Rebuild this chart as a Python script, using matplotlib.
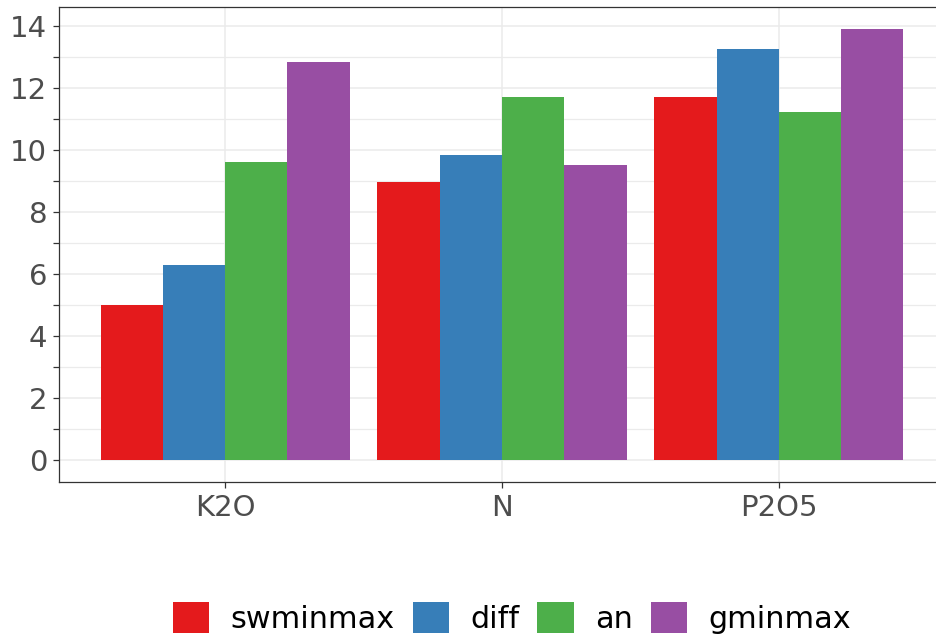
import numpy as np
import matplotlib
matplotlib.use("Agg")
import matplotlib.pyplot as plt
from matplotlib.ticker import MultipleLocator
from matplotlib.patches import Patch

plt.rcParams['font.family'] = ['DejaVu Sans']

# data
nutrients = ['K2O', 'N', 'P2O5']
methods = ['swminmax', 'diff', 'an', 'gminmax']
swminmax = [5.00, 8.99, 11.73]
diff = [6.29, 9.84, 13.27]
an = [9.61, 11.72, 11.24]
gminmax = [12.83, 9.53, 13.91]
colors = ['#E41A1C', '#377EB8', '#4DAF4A', '#984EA3']

series = [swminmax, diff, an, gminmax]

fig = plt.figure(figsize=(9.37, 6.37), dpi=100)
# panel is cut off on the right in the reference
ax = fig.add_axes([59 / 937, 1 - 482 / 637, (945 - 59) / 937, (482 - 7.5) / 637])

x = np.arange(1, len(nutrients) + 1)
w = 0.9 / len(methods)
for i, (vals, c) in enumerate(zip(series, colors)):
    ax.bar(x - 0.45 + w * (i + 0.5), vals, width=w, color=c, linewidth=0, zorder=3)

ax.set_xlim(0.4, 3.6)
ax.set_ylim(-0.695, 14.6)
ax.set_xticks(x)
ax.set_xticklabels(nutrients)
ax.yaxis.set_major_locator(MultipleLocator(2))
ax.yaxis.set_minor_locator(MultipleLocator(1))

ax.grid(True, which='major', color='#EBEBEB', linewidth=1.1, zorder=0)
ax.grid(True, which='minor', axis='y', color='#EBEBEB', linewidth=0.9, zorder=0)
ax.set_axisbelow(True)

for s in ax.spines.values():
    s.set_color('#333333')
    s.set_linewidth(0.9)

ax.tick_params(axis='both', which='both', length=4.5, width=0.9, color='#333333',
               labelcolor='#4D4D4D', labelsize=21, pad=4)
ax.tick_params(axis='x', which='minor', length=0)

handles = [Patch(facecolor=c, edgecolor='none') for c in colors]
fig.legend(handles, methods, loc='center', bbox_to_anchor=(512 / 937, 1 - 618 / 637),
           ncol=4, frameon=False, fontsize=21.8, handlelength=1.2, handleheight=1.2,
           handletextpad=0.7, columnspacing=0.6, borderpad=0)

fig.savefig('out.png', dpi=100)
